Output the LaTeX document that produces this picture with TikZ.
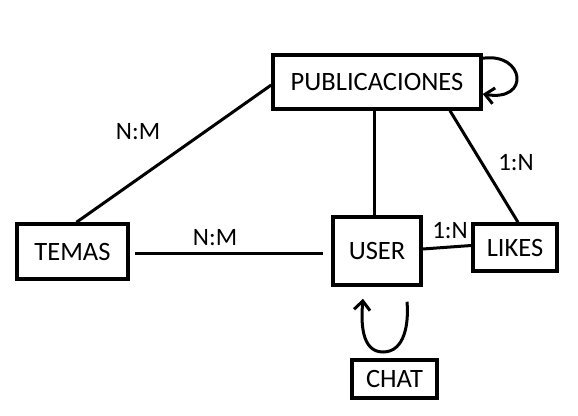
\documentclass[tikz,border=0pt]{standalone}
\usepackage{fontspec}
\setmainfont{Carlito}
\usetikzlibrary{arrows.meta,positioning,calc}
\tikzset{box/.style={
            draw,
            line width=3.5pt,
            inner sep=0pt,
            font=\fontsize{26.5}{30}\selectfont
        },
        link/.style={
            line width=3pt
        },
        loop/.style={
            line width=3pt,
            -{Straight Barb[length=9pt,width=16pt,line width=3pt]}
        },
        card/.style={
            font=\fontsize{25}{30}\selectfont
        }
    }
\begin{document}
\begin{tikzpicture}[x=1pt,y=-1pt]
        \useasboundingbox (0,0) rectangle (578,415);

        \node[box, minimum width=208pt, minimum height=54pt] at (377,82) (pub) {PUBLICACIONES};
        \node[box, minimum width=88pt, minimum height=68pt] at (377,251) (user) {USER};
        \node[box, minimum width=84pt, minimum height=47pt] at (515,247.5) (likes) {LIKES};
        \node[box, minimum width=111pt, minimum height=55pt] at (72.5,251.5) (temas) {TEMAS};
        \node[box, minimum width=85pt, minimum height=38pt] at (394.5,379) (chat) {CHAT};

        \draw[link] ([yshift=-3pt]pub.west) -- ([xshift=4pt]temas.north);
        \draw[link] ([xshift=-3pt]pub.south) -- ([xshift=-3pt]user.north);
        \draw[link] ([xshift=73pt]pub.south) -- ([xshift=3pt]likes.north);
        \draw[link] ([xshift=5pt,yshift=-1.5pt]temas.east) -- ([xshift=-8pt,yshift=-2pt]user.west);
        \draw[link] ([yshift=2pt]user.east) -- ([yshift=2pt]likes.east -| likes.west);

        % self loops
        \coordinate (pubout) at ([yshift=-5pt]pub.north east);
        \coordinate (pubin) at ([yshift=-12pt]pub.east);
        \draw[loop] (pubout) .. controls +(42,-6) and +(48,8) .. (pubin);
        \coordinate (userout) at ([xshift=30pt,yshift=-15pt]user.south);
        \coordinate (userin) at ([xshift=-14pt,yshift=-12pt]user.south);
        \draw[loop] (userout) to[out=-85,in=0] (383,352) to[out=180,in=-95] (userin);

        \node[card] at (138,132) (nm1) {N:M};
        \node[card] at (516,163) (on1) {1:N};
        \node[card] at (215,238) (nm2) {N:M};
        \node[card] at (450,231) (on2) {1:N};
    \end{tikzpicture}
\end{document}
